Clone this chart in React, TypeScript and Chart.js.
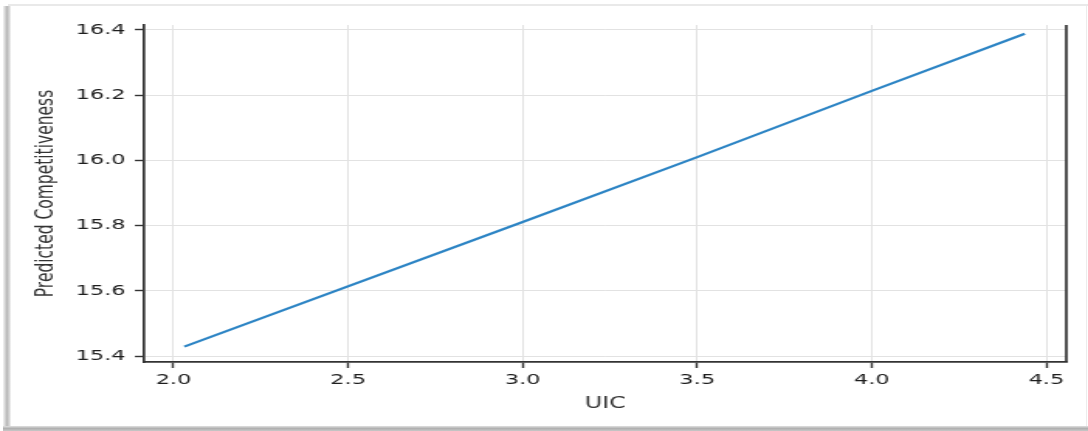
import React, { useEffect, useRef } from "react";
import { Chart, registerables } from "chart.js";

Chart.register(...registerables);

// Data
const uicValues = [2.031, 3.0, 3.5, 4.0, 4.438];
const predictedValues = [15.429, 15.811, 16.01, 16.213, 16.388];

// Axis ranges / ticks
const xRange = [1.916, 4.557];
const yRange = [15.382, 16.415];
const xStep = 0.5;
const yStep = 0.2;

const xTitle = "UIC";
const yTitle = "Predicted Competitiveness";

const W = 702;
const H = 431;

export default function App() {
  const ref = useRef<HTMLCanvasElement | null>(null);

  useEffect(() => {
    if (!ref.current) return;
    const tickFont = { family: "'DejaVu Sans', sans-serif", size: 14.5 };
    const titleFont = { family: "'DejaVu Sans', sans-serif", size: 15.5 };
    const chart = new Chart(ref.current, {
      type: "line",
      data: {
        datasets: [
          {
            data: uicValues.map((x, i) => ({ x, y: predictedValues[i] })),
            borderColor: "#2c84c4",
            borderWidth: 2.2,
            pointRadius: 0,
            tension: 0,
            fill: false,
          },
        ],
      },
      options: {
        responsive: false,
        animation: false,
        devicePixelRatio: 1,
        layout: { padding: { left: 0, right: 14, top: 25, bottom: 0 } },
        plugins: {
          legend: { display: false },
          tooltip: { enabled: false },
        },
        scales: {
          x: {
            type: "linear",
            min: xRange[0],
            max: xRange[1],
            afterFit: (s: any) => {
              s.height = 69;
            },
            ticks: {
              stepSize: xStep,
              includeBounds: false,
              autoSkip: false,
              maxRotation: 0,
              padding: 4,
              color: "#1e1e1e",
              font: tickFont,
              callback: (v: any) => Number(v).toFixed(1),
            },
            grid: {
              color: "#e2e2e2",
              lineWidth: 1,
              tickLength: 6,
              tickColor: "#333",
              tickWidth: 1.4,
            },
            border: { display: true, color: "#333", width: 1.7 },
            title: {
              display: true,
              text: xTitle,
              color: "#333",
              font: titleFont,
              padding: { top: 0, bottom: 18 },
            },
          },
          y: {
            type: "linear",
            min: yRange[0],
            max: yRange[1],
            afterFit: (s: any) => {
              s.width = 93;
            },
            ticks: {
              stepSize: yStep,
              includeBounds: false,
              autoSkip: false,
              padding: 6,
              color: "#1e1e1e",
              font: tickFont,
              callback: (v: any) => Number(v).toFixed(1),
            },
            grid: {
              color: "#e2e2e2",
              lineWidth: 1,
              tickLength: 6,
              tickColor: "#333",
              tickWidth: 1.4,
            },
            border: { display: true, color: "#333", width: 1.7 },
            title: {
              display: true,
              text: yTitle,
              color: "#333",
              font: titleFont,
              padding: { top: 21, bottom: 0 },
            },
          },
        },
      },
      plugins: [
        {
          id: "rightSpine",
          afterDraw(c: any) {
            const { ctx, chartArea } = c;
            ctx.save();
            ctx.strokeStyle = "#333";
            ctx.lineWidth = 1.7;
            ctx.beginPath();
            ctx.moveTo(chartArea.right, chartArea.top);
            ctx.lineTo(chartArea.right, chartArea.bottom);
            ctx.stroke();
            ctx.restore();
          },
        },
      ],
    } as any);
    return () => chart.destroy();
  }, []);

  return (
    <div
      style={{
        position: "fixed",
        left: 0,
        top: 0,
        width: 1088,
        height: 431,
        background: "#fff",
        overflow: "hidden",
      }}
    >
      <div
        style={{
          position: "absolute",
          left: 0,
          top: 0,
          width: W,
          height: H,
          transform: `scaleX(${1088 / W})`,
          transformOrigin: "0 0",
        }}
      >
        <canvas ref={ref} width={W} height={H} style={{ width: W, height: H, display: "block" }} />
      </div>
      {/* screenshot frame */}
      <div style={{ position: "absolute", left: 8, top: 4, width: 1080, height: 2, background: "#e9e9e9" }} />
      <div
        style={{
          position: "absolute",
          left: 3,
          top: 6,
          width: 8,
          height: 422,
          background: "linear-gradient(to right, #f4f4f4, #b8b8b8 50%, #dcdcdc 85%, #fafafa)",
        }}
      />
      <div
        style={{
          position: "absolute",
          left: 3,
          top: 426,
          width: 1085,
          height: 5,
          background: "linear-gradient(to bottom, #e0e0e0, #b0b0b0 50%, #c8c8c8)",
        }}
      />
      <div style={{ position: "absolute", left: 1086, top: 6, width: 1, height: 420, background: "#ececec" }} />
    </div>
  );
}
